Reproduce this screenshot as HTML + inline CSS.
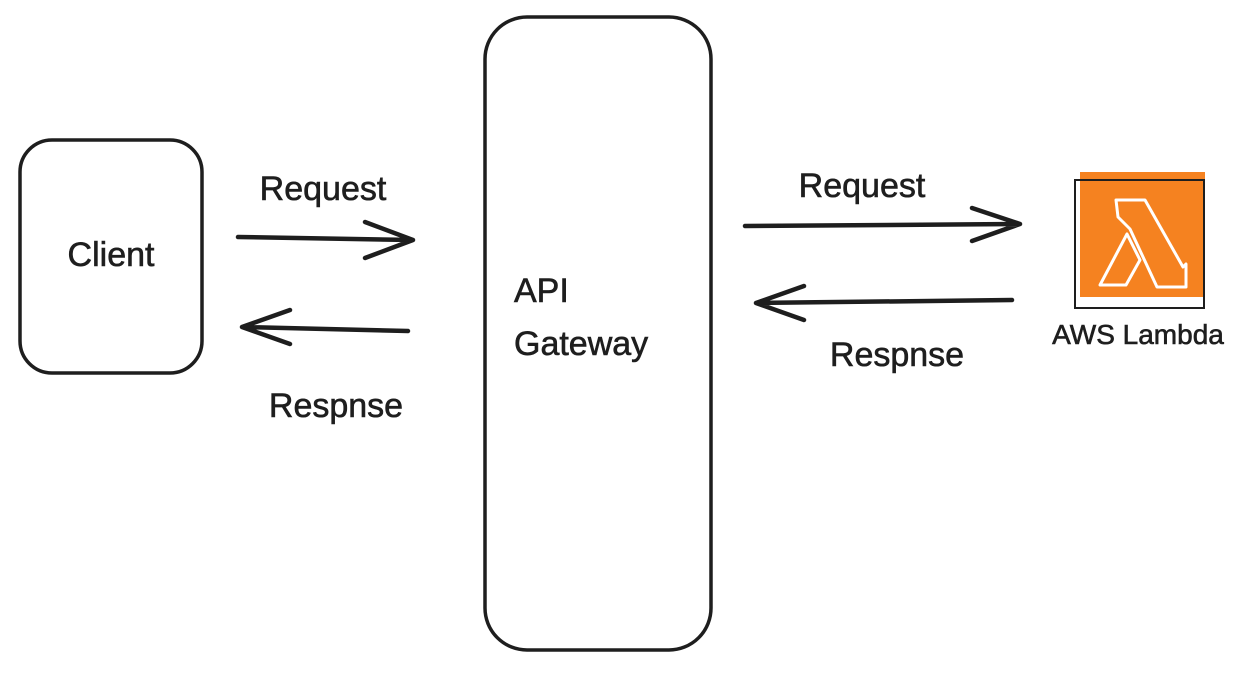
<!DOCTYPE html>
<html><head><style>
html,body{margin:0;padding:0;background:#fff;}
svg text{font-family:"Liberation Sans",sans-serif;fill:#1e1e1e;}
</style></head><body>
<svg width="1257" height="670" viewBox="0 0 1257 670" xmlns="http://www.w3.org/2000/svg">
<g fill="none" stroke="#1e1e1e" stroke-width="3.5" stroke-linecap="round" stroke-linejoin="round">
<rect x="20" y="140" width="182" height="233" rx="32"/>
<rect x="485" y="17" width="226" height="633" rx="42"/>
</g>
<g fill="none" stroke="#1e1e1e" stroke-width="4.5" stroke-linecap="round" stroke-linejoin="round">
<path d="M238 237 L413 240 M365 222 L413 240 L365 258"/>
<path d="M408 331 L242 327 M290 310 L242 327 L290 344"/>
<path d="M745 226 L1020 224 M972 208 L1020 224 L972 241"/>
<path d="M1012 300 L756 303 M804 286 L756 303 L804 320"/>
</g>
<rect x="1080" y="172" width="125" height="125" fill="#f58220"/>
<rect x="1075" y="180" width="129" height="128" fill="none" stroke="#1e1e1e" stroke-width="2"/>
<g fill="none" stroke="#fff" stroke-width="3" stroke-linejoin="round">
<path d="M1116 200 L1145 200 L1183 267 L1186 264 L1186 287 L1157 287 L1130 229 L1118 217 Z"/>
<path d="M1127 234 L1140 260 L1126 285 L1100 285 Z"/>
</g>
<g font-size="34" text-anchor="middle" stroke="#1e1e1e" stroke-width="0.6">
<text x="111" y="266">Client</text>
<text x="323" y="200">Request</text>
<text x="336" y="417">Respnse</text>
<text x="514" y="302" text-anchor="start">API</text>
<text x="514" y="355" text-anchor="start">Gateway</text>
<text x="862" y="197">Request</text>
<text x="897" y="366">Respnse</text>
<text x="1138" y="344" font-size="28">AWS Lambda</text>
</g>
</svg>
</body></html>
